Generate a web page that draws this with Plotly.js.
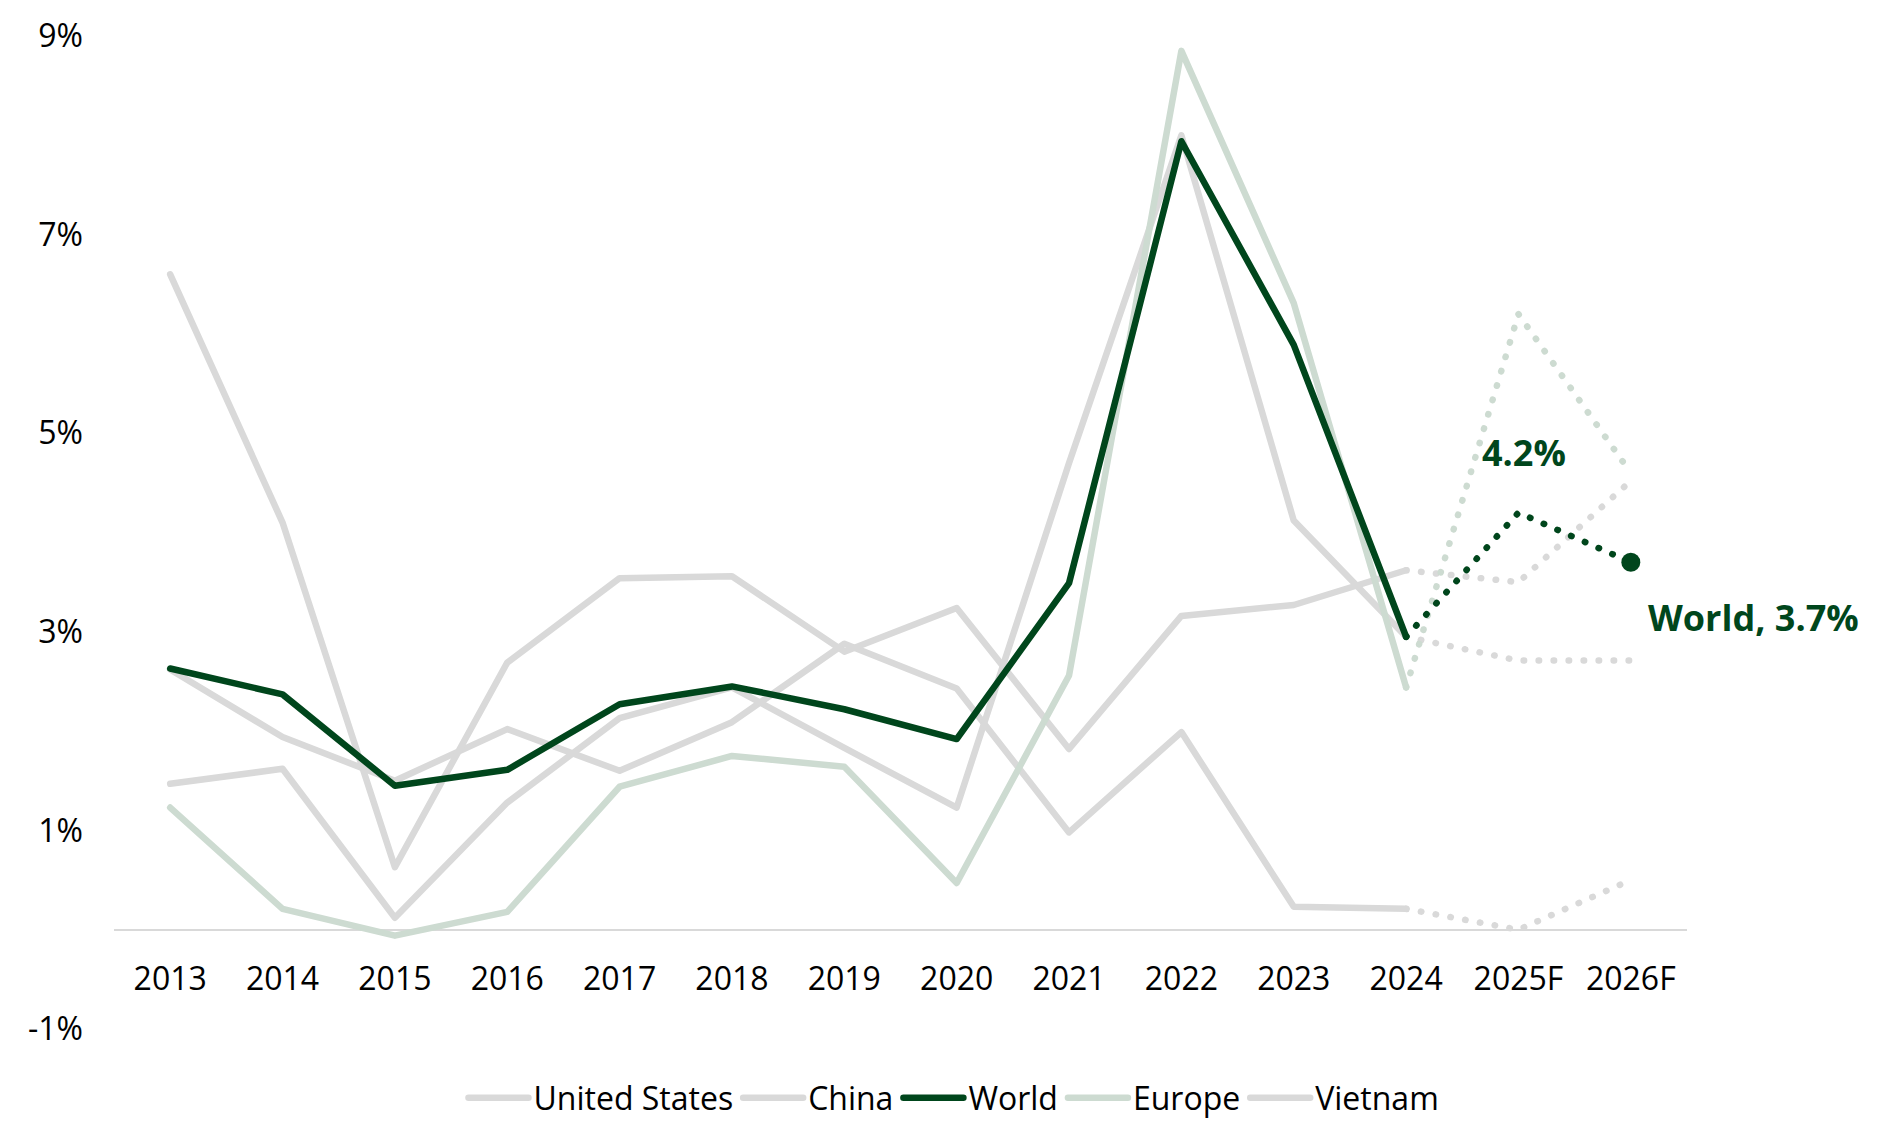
<!DOCTYPE html>
<html>
<head>
<meta charset="utf-8">
<script src="https://cdn.plot.ly/plotly-3.0.1.min.js"></script>
<style>
  html, body { margin: 0; padding: 0; background: #ffffff; }
  #chart { width: 1883px; height: 1123px; }
  .scatterlayer .js-line, .legend .js-line { stroke-linecap: round !important; stroke-linejoin: round !important; }
</style>
</head>
<body>
<div id="chart"></div>
<script>
// ---- Data (annual % change) ----
const categories = ['2013','2014','2015','2016','2017','2018','2019','2020','2021','2022','2023','2024','2025F','2026F'];
const unitedStates = [1.47, 1.62, 0.12, 1.28, 2.13, 2.44, 1.83, 1.23, 4.70, 8.00, 4.12, 2.95, 2.71, 2.71];
const china        = [2.62, 1.94, 1.50, 2.02, 1.60, 2.09, 2.88, 2.43, 0.98, 1.99, 0.23, 0.21, 0.00, 0.50];
const world        = [2.63, 2.37, 1.45, 1.61, 2.27, 2.45, 2.22, 1.92, 3.49, 7.94, 5.89, 2.95, 4.20, 3.70];
const europe       = [1.23, 0.21, -0.06, 0.18, 1.44, 1.75, 1.64, 0.47, 2.56, 8.85, 6.31, 2.44, 6.20, 4.60];
const vietnam      = [6.60, 4.10, 0.63, 2.69, 3.54, 3.56, 2.80, 3.24, 1.82, 3.16, 3.27, 3.62, 3.50, 4.52];
const yTicks = [-1, 1, 3, 5, 7, 9];
const lastActual = 11; // index of 2024

// ---- Styles ----
const GREY = '#d9d9d9';
const DARK = '#00461c';
const LIGHT = '#cddbd1';
const DOT = '0.5px,14.5px';
const FONT = 'Open Sans, Noto Sans, sans-serif';

function actual(name, vals, color, rank) {
  return {
    type: 'scatter', mode: 'lines', name: name,
    x: categories.slice(0, lastActual + 1), y: vals.slice(0, lastActual + 1),
    line: { color: color, width: 6.5 }, legendrank: rank, hoverinfo: 'skip'
  };
}
function forecast(name, vals, color, withEndMarker) {
  const xs = categories.slice(lastActual), ys = vals.slice(lastActual);
  const t = {
    type: 'scatter', mode: withEndMarker ? 'lines+markers' : 'lines', name: name + ' (F)',
    x: xs, y: ys, showlegend: false, hoverinfo: 'skip',
    line: { color: color, width: 6.5, dash: DOT }
  };
  if (withEndMarker) {
    t.marker = { color: color, opacity: 1, line: { width: 0 },
                 size: ys.map((v, i) => i === ys.length - 1 ? 19 : 0) };
  }
  return t;
}

const traces = [
  forecast('China', china, GREY),
  forecast('United States', unitedStates, GREY),
  forecast('Vietnam', vietnam, GREY),
  forecast('Europe', europe, LIGHT),
  actual('China', china, GREY, 2),
  actual('United States', unitedStates, GREY, 1),
  actual('Vietnam', vietnam, GREY, 5),
  actual('Europe', europe, LIGHT, 4),
  forecast('World', world, DARK, true),
  actual('World', world, DARK, 3)
];

const n = categories.length;
const layout = {
  width: 1883, height: 1123,
  margin: { l: 114, r: 196, t: 36, b: 94, autoexpand: false },
  paper_bgcolor: '#ffffff', plot_bgcolor: '#ffffff',
  font: { family: FONT, size: 32, color: '#000000' },
  showlegend: true,
  legend: {
    orientation: 'h', x: 0.534, xanchor: 'center', y: -0.0695, yanchor: 'middle',
    itemwidth: 60,
    font: { family: FONT, size: 32, color: '#000000' }, traceorder: 'normal'
  },
  xaxis: {
    type: 'category', categoryorder: 'array', categoryarray: categories,
    range: [-0.5, n - 0.5],
    showgrid: false, zeroline: false, showline: false, ticks: '',
    anchor: 'free', position: 0.0725,
    tickfont: { family: FONT, size: 32, color: '#000000' }
  },
  yaxis: {
    range: [-1, 9], tickvals: yTicks, ticktext: yTicks.map(v => v + '%'),
    showgrid: false, showline: false, ticks: '',
    zeroline: true, zerolinecolor: GREY, zerolinewidth: 2,
    ticklabelstandoff: 30,
    tickfont: { family: FONT, size: 32, color: '#000000' }
  },
  annotations: [
    {
      x: categories[n - 2], y: world[n - 2], xref: 'x', yref: 'y',
      text: '<b>' + world[n - 2].toFixed(1) + '%</b>', showarrow: false,
      xshift: 6, yshift: 60, font: { family: FONT, size: 36, color: DARK }
    },
    {
      x: categories[n - 1], y: world[n - 1], xref: 'x', yref: 'y',
      text: '<b>World, ' + world[n - 1].toFixed(1) + '%</b>', showarrow: false,
      xshift: 123, yshift: -55, font: { family: FONT, size: 36, color: DARK }
    }
  ]
};

Plotly.newPlot('chart', traces, layout, { displayModeBar: false, staticPlot: true });
</script>
</body>
</html>
